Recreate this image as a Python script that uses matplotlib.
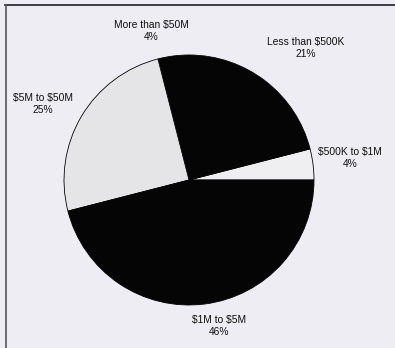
import numpy as np
import matplotlib
matplotlib.use("Agg")
import matplotlib.pyplot as plt
from matplotlib.lines import Line2D

# ---------- Data ----------
labels = ["$500K to $1M", "Less than $500K", "More than $50M", "$5M to $50M", "$1M to $5M"]
shares = [4, 21, 4, 25, 46]
colors = ["#efeff1", "#050505", "#050505", "#e5e5e7", "#050505"]

# label placement: (radius multiplier, angle nudge in degrees)
LABEL_POS = {
    "$500K to $1M": (1.30, 0.6),
    "Less than $500K": (1.41, -3.6),
    "More than $50M": (1.23, 7.0),
    "$5M to $50M": (1.32, 3.2),
    "$1M to $5M": (1.19, 4.4),
}

BG = "#eeedf4"
W, H = 395, 348
CX, CY, R = 189, 180, 125

plt.rcParams["font.family"] = ["Liberation Sans", "DejaVu Sans"]
plt.rcParams["text.parse_math"] = False  # dollar signs are literal

fig = plt.figure(figsize=(W / 100, H / 100), dpi=100, facecolor=BG)
ax = fig.add_axes([(CX - R) / W, (H - CY - R) / H, 2 * R / W, 2 * R / H])
ax.set_facecolor(BG)

wedges, _ = ax.pie(
    shares, colors=colors, startangle=0, counterclock=True, radius=1.0,
    wedgeprops=dict(edgecolor="#050505", linewidth=0.6),
)
ax.set_xlim(-1, 1)
ax.set_ylim(-1, 1)
ax.set_aspect("equal")
ax.axis("off")

for w, lab, val in zip(wedges, labels, shares):
    dist, nudge = LABEL_POS[lab]
    mid = np.deg2rad((w.theta1 + w.theta2) / 2 + nudge)
    ax.text(dist * np.cos(mid), dist * np.sin(mid), f"{lab}\n{val}%",
            ha="center", va="center", fontsize=7.4, color="#111111",
            linespacing=1.25)

# frame lines along top and left edges
fig.add_artist(Line2D([5 / W, 1.0], [1 - 5 / H, 1 - 5 / H], color="#1e1e28", lw=1.2))
fig.add_artist(Line2D([6 / W, 6 / W], [0, 1 - 5 / H], color="#55555d", lw=1.2))

fig.savefig("out.png", dpi=100, facecolor=BG)
